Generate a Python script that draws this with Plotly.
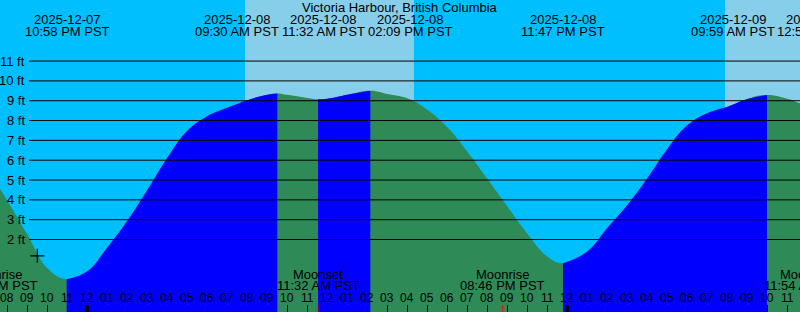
import plotly.graph_objects as go
import pandas as pd

# ---------------- data ----------------
station = "Victoria Harbour, British Columbia"

hourly_start = "2025-12-07 19:00"
hourly_heights = [5.6, 3.95, 2.25, 0.55, 0.0, 0.4, 1.6, 2.95, 4.5, 6.13, 7.49,
                  8.22, 8.64, 9.03, 9.3, 9.3, 9.14, 9.10, 9.3, 9.48, 9.34, 9.12,
                  8.54, 7.66, 6.43, 5.06, 3.67, 2.29, 1.14, 0.81, 1.4, 2.58,
                  3.74, 5.09, 6.57, 7.76, 8.37, 8.7, 9.09, 9.29, 9.1, 8.75]

tide_times = ["2025-12-07 22:58", "2025-12-08 09:30", "2025-12-08 11:32",
              "2025-12-08 14:09", "2025-12-08 23:47", "2025-12-09 09:59",
              "2025-12-09 12:52"]
tide_heights = [0.0, 9.37, 9.07, 9.50, 0.80, 9.29, 8.60]
tide_types = ["L", "H", "L", "H", "L", "H", "L"]
# horizontal label shift (hours) used to keep the top labels from overlapping
tide_label_shift = [0.04, -2.0, 0.25, 2.0, 0.0, -1.7, -0.28]

sunrise_times = ["2025-12-08 07:53", "2025-12-09 07:53"]
sunset_times = ["2025-12-08 16:20", "2025-12-09 16:20"]

moon_times = ["2025-12-07 19:23", "2025-12-08 11:32", "2025-12-08 20:46",
              "2025-12-09 11:54"]
moon_events = ["Moonrise", "Moonset", "Moonrise", "Moonset"]

now_time = "2025-12-07 21:30"
now_height = 1.18

grid_feet = [2, 3, 4, 5, 6, 7, 8, 9, 10, 11]

# ---------------- helpers ----------------
T0 = pd.Timestamp("2025-12-08 00:00")


def hrs(s):
    return (pd.Timestamp(s) - T0) / pd.Timedelta(hours=1)


W, H = 800, 312
x_range = [-4.3667, 35.6333]
y_range = [-1.655, 14.08]
ybot = y_range[0] - 1


def ypaper(px):
    return 1 - px / H


def xpaper(t):
    return (t - x_range[0]) / (x_range[1] - x_range[0])


h0 = hrs(hourly_start)
hourly_t = [h0 + i for i in range(len(hourly_heights))]
ev_t = [hrs(s) for s in tide_times]

pts = [(t, v) for t, v in zip(ev_t, tide_heights)]
for t, v in zip(hourly_t, hourly_heights):
    if min(abs(t - e) for e in ev_t) > 0.25:
        pts.append((t, v))
pts.sort()
cx = [p[0] for p in pts]
cy = [p[1] for p in pts]

GREEN = "#2E8B57"
BLUE = "#0000FF"
NIGHT = "#00BFFF"
DAY = "#87CEEB"
FONT = "Liberation Sans, Arial, sans-serif"
SMOOTH = 1.2

fig = go.Figure()

# full curve in green (falling colour) as underlay
fig.add_trace(go.Scatter(x=[cx[0], cx[-1]], y=[ybot, ybot], mode="lines",
                         line=dict(width=0), hoverinfo="skip", showlegend=False))
fig.add_trace(go.Scatter(x=cx, y=cy, mode="lines",
                         line=dict(width=0, shape="spline", smoothing=SMOOTH),
                         fill="tonexty", fillcolor=GREEN, hoverinfo="skip",
                         showlegend=False))

# rising segments in blue
for i in range(len(ev_t) - 1):
    if tide_types[i] == "L" and tide_types[i + 1] == "H":
        a, b = ev_t[i], ev_t[i + 1]
        sx = [x for x in cx if a - 1e-9 <= x <= b + 1e-9]
        sy = [y for x, y in zip(cx, cy) if a - 1e-9 <= x <= b + 1e-9]
        fig.add_trace(go.Scatter(x=[a, b], y=[ybot, ybot], mode="lines",
                                 line=dict(width=0), hoverinfo="skip", showlegend=False))
        fig.add_trace(go.Scatter(x=sx, y=sy, mode="lines",
                                 line=dict(width=0, shape="spline", smoothing=SMOOTH),
                                 fill="tonexty", fillcolor=BLUE, hoverinfo="skip",
                                 showlegend=False))

# current-time marker
fig.add_trace(go.Scatter(x=[hrs(now_time)], y=[now_height], mode="markers",
                         marker=dict(symbol="cross-thin", size=10,
                                     line=dict(width=1.2, color="black")),
                         hoverinfo="skip", showlegend=False))

shapes = []
# daylight bands
for sr, ss in zip(sunrise_times, sunset_times):
    shapes.append(dict(type="rect", xref="x", yref="paper", x0=hrs(sr), x1=hrs(ss),
                       y0=0, y1=1, fillcolor=DAY, line=dict(width=0), layer="below"))
# height grid lines
for f in grid_feet:
    shapes.append(dict(type="line", xref="paper", yref="y", x0=29 / W, x1=1,
                       y0=f, y1=f, line=dict(color="black", width=1), layer="above"))
# midnight ticks
for m in range(int(x_range[0] // 24) * 24, int(x_range[1]) + 1, 24):
    if x_range[0] <= m <= x_range[1]:
        shapes.append(dict(type="line", xref="x", yref="paper", x0=m, x1=m,
                           y0=0, y1=7 / H, line=dict(color="black", width=3),
                           layer="above"))
# moon event ticks
for mt in moon_times:
    shapes.append(dict(type="line", xref="x", yref="paper", x0=hrs(mt), x1=hrs(mt),
                       y0=0, y1=7 / H, line=dict(color="red", width=1), layer="above"))

ann = []
txt = dict(family=FONT, size=13, color="#000000")
ann.append(dict(text=station, xref="paper", yref="paper", x=0.5, y=ypaper(7.5),
                xanchor="center", yanchor="middle", showarrow=False, font=txt))
for t, s, sh in zip(ev_t, tide_times, tide_label_shift):
    ts = pd.Timestamp(s)
    ann.append(dict(text=ts.strftime("%Y-%m-%d"), xref="paper", yref="paper",
                    x=xpaper(t + sh), y=ypaper(19.7), xanchor="center",
                    yanchor="middle", showarrow=False, font=txt))
    ann.append(dict(text=ts.strftime("%I:%M %p PST"), xref="paper", yref="paper",
                    x=xpaper(t + sh), y=ypaper(31.3), xanchor="center",
                    yanchor="middle", showarrow=False, font=txt))
for s, name in zip(moon_times, moon_events):
    ts = pd.Timestamp(s)
    ann.append(dict(text=name, xref="paper", yref="paper", x=xpaper(hrs(s)),
                    y=ypaper(274.2), xanchor="center", yanchor="middle",
                    showarrow=False, font=txt))
    ann.append(dict(text=ts.strftime("%I:%M %p PST"), xref="paper", yref="paper",
                    x=xpaper(hrs(s)), y=ypaper(285.8), xanchor="center",
                    yanchor="middle", showarrow=False, font=txt))
for f in grid_feet:
    ann.append(dict(text=f"{f} ft", xref="paper", yref="y", x=27 / W, y=f,
                    xanchor="right", yanchor="middle", showarrow=False, font=txt))
hour_ticks = list(range(int(x_range[0]) - 1, int(x_range[1]) + 2))
for h in hour_ticks:
    lab = (T0 + pd.Timedelta(hours=h)).strftime("%I")
    ann.append(dict(text=lab, xref="paper", yref="paper", x=xpaper(h), y=ypaper(297.5),
                    xanchor="center", yanchor="middle", showarrow=False,
                    font=dict(family=FONT, size=12, color="#000000")))

fig.update_layout(
    width=W, height=H, margin=dict(l=0, r=0, t=0, b=0),
    paper_bgcolor=NIGHT, plot_bgcolor=NIGHT,
    shapes=shapes, annotations=ann, showlegend=False,
    xaxis=dict(range=x_range, showgrid=False, zeroline=False, showline=False,
               tickmode="array", tickvals=hour_ticks, ticks="inside", ticklen=7,
               tickwidth=1, tickcolor="black", showticklabels=False, fixedrange=True),
    yaxis=dict(range=y_range, showgrid=False, zeroline=False, showline=False,
               showticklabels=False, ticks="", fixedrange=True),
)

fig.write_html("out.html")
